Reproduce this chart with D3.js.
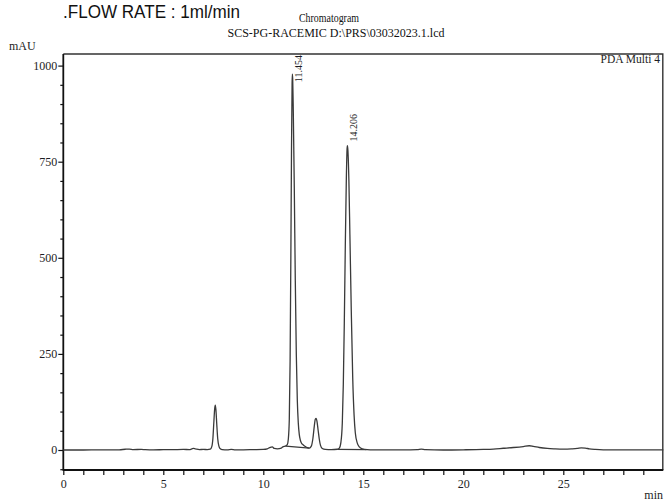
<!DOCTYPE html>
<html>
<head>
<meta charset="utf-8">
<script src="https://cdn.jsdelivr.net/npm/d3@7"></script>
<style>
  html, body { margin: 0; padding: 0; background: #fff; }
  svg { display: block; }
</style>
</head>
<body>
<svg id="chart" width="664" height="502"></svg>
<script>
// Detector trace: retention time (min) and absorbance (mAU)
const traceTime = [
  0, 1, 2, 2.8, 3.1, 3.3, 3.5, 3.9, 4.1, 4.5, 5, 5.5, 6, 6.3, 6.5, 6.6, 6.8, 7.0, 7.2,
  7.35, 7.42, 7.48, 7.53, 7.57, 7.6, 7.63, 7.67, 7.72, 7.78, 7.85, 7.95, 8.2, 8.4, 8.6,
  9.0, 9.5, 10.0, 10.2, 10.35, 10.45, 10.55, 10.7, 10.9, 11.0, 11.1, 11.2, 11.25, 11.3,
  11.34, 11.38, 11.41, 11.44, 11.454, 11.47, 11.5, 11.55, 11.6, 11.65, 11.7, 11.75, 11.8,
  11.85, 11.9, 12.0, 12.1, 12.2, 12.3, 12.4, 12.48, 12.55, 12.6, 12.64, 12.68, 12.74,
  12.8, 12.86, 12.95, 13.1, 13.4, 13.7, 13.8, 13.88, 13.95, 14.0, 14.05, 14.1, 14.15,
  14.19, 14.206, 14.23, 14.28, 14.33, 14.4, 14.47, 14.54, 14.6, 14.7, 14.8, 14.95, 15.2,
  15.5, 16, 17, 17.7, 17.9, 18.1, 19, 20, 21, 21.5, 22, 22.5, 23, 23.3, 23.5, 23.8, 24.2,
  24.6, 25.0, 25.4, 25.7, 25.9, 26.1, 26.3, 26.6, 27, 28, 29, 30
];
const traceMAU = [
  0, 0, 0.3, 0.5, 2, 2.5, 1, 1.5, 1, 0.5, 0.8, 1, 1.5, 1, 4, 3, 1, 1.5, 1,
  2, 8, 30, 75, 108, 117, 105, 70, 30, 10, 3, 1, 0.5, 1.5, 0.5,
  0.5, 1, 1.5, 3, 7, 8, 4, 3, 5, 9, 10, 14, 28, 80,
  230, 520, 780, 955, 978, 965, 880, 680, 440, 250, 130, 70, 40,
  26, 19, 13, 9, 6, 5, 10, 30, 62, 80, 82, 76, 52,
  28, 12, 4, 1.5, 1, 2, 5, 20, 70, 170, 330, 530, 700,
  785, 792, 780, 700, 560, 360, 190, 90, 45, 18, 8, 3, 1,
  0.5, 0.5, 0.5, 1, 2.5, 1, 0, 0.5, 1.5, 2.5, 4.5, 6.5, 9, 11, 9.5, 6.5, 4,
  3, 2.5, 3, 4, 5.5, 5, 3, 1.5, 0.5, 0.3, 0.2, 0.2
];

// Integration baselines drawn under the two main peaks
const baselineMainTime = [11.12, 12.3];
const baselineMainMAU = [10, 5];
const baselineSecondTime = [13.72, 15.15];
const baselineSecondMAU = [1.5, 1];

// Labelled peaks (retention time, apex height)
const peakTimes = [11.454, 14.206];
const peakHeights = [978, 792];
const peakLabels = ["11.454", "14.206"];

// Axis ticks
const xMajorTicks = [0, 5, 10, 15, 20, 25];
const xMinorTicks = d3.range(0, 31, 1);
const yMajorTicks = [0, 250, 500, 750, 1000];
const yMinorTicks = d3.range(-50, 1001, 50);

const svg = d3.select("#chart");
const plotLeft = 63.3, plotRight = 663.3, plotTop = 54, plotBottom = 470;

const x = d3.scaleLinear().domain([0, 30]).range([plotLeft, plotRight]);
const y = d3.scaleLinear().domain([0, 1000]).range([450, 65.6]);

const serif = "'Liberation Serif', 'Times New Roman', serif";
const textColor = "#1d1d24";

// Heading
svg.append("text")
  .attr("x", 63).attr("y", 18)
  .attr("font-family", "'Liberation Sans', Arial, sans-serif")
  .attr("font-size", 18)
  .attr("textLength", 177)
  .attr("lengthAdjust", "spacingAndGlyphs")
  .attr("fill", "#111")
  .text(".FLOW RATE : 1ml/min");

svg.append("text")
  .attr("x", 299).attr("y", 22)
  .attr("font-family", serif).attr("font-size", 11.5)
  .attr("textLength", 60)
  .attr("lengthAdjust", "spacingAndGlyphs")
  .attr("fill", "#111")
  .text("Chromatogram");

svg.append("text")
  .attr("x", 336).attr("y", 37)
  .attr("text-anchor", "middle")
  .attr("font-family", serif).attr("font-size", 12)
  .attr("fill", "#111")
  .text("SCS-PG-RACEMIC D:\\PRS\\03032023.1.lcd");

svg.append("text")
  .attr("x", 9).attr("y", 50)
  .attr("font-family", serif).attr("font-size", 12)
  .attr("fill", textColor)
  .text("mAU");

svg.append("text")
  .attr("x", 663).attr("y", 499)
  .attr("text-anchor", "end")
  .attr("font-family", serif).attr("font-size", 12)
  .attr("fill", textColor)
  .text("min");

// Frame (top and right edges)
svg.append("path")
  .attr("d", `M${plotLeft},${plotTop}H${plotRight - 0.5}V${plotBottom}`)
  .attr("fill", "none")
  .attr("stroke", "#333")
  .attr("stroke-width", 1.4);

svg.append("text")
  .attr("x", 660).attr("y", 63)
  .attr("text-anchor", "end")
  .attr("font-family", serif).attr("font-size", 11.5)
  .attr("fill", textColor)
  .text("PDA Multi 4");

// Minor ticks
svg.append("g")
  .attr("transform", `translate(${plotLeft},0)`)
  .call(d3.axisLeft(y).tickValues(yMinorTicks.filter(v => !yMajorTicks.includes(v))).tickSize(3).tickFormat(""))
  .call(g => g.select(".domain").remove())
  .selectAll("line").attr("stroke", "#111").attr("stroke-width", 1.2);

svg.append("g")
  .attr("transform", `translate(0,${plotBottom})`)
  .call(d3.axisBottom(x).tickValues(xMinorTicks.filter(v => !xMajorTicks.includes(v) && v < 30)).tickSize(5).tickFormat(""))
  .call(g => g.select(".domain").remove())
  .selectAll("line").attr("stroke", "#111").attr("stroke-width", 1.2);

// Major axes
const yAxis = svg.append("g")
  .attr("transform", `translate(${plotLeft},0)`)
  .call(d3.axisLeft(y).tickValues(yMajorTicks).tickFormat(d3.format("d"))
    .tickSize(5).tickPadding(1).tickSizeOuter(0));
yAxis.select(".domain").remove();
yAxis.selectAll("line").attr("stroke", "#111").attr("stroke-width", 1.2);
yAxis.selectAll("text")
  .attr("font-family", serif).attr("font-size", 12).attr("fill", textColor);

const xAxis = svg.append("g")
  .attr("transform", `translate(0,${plotBottom})`)
  .call(d3.axisBottom(x).tickValues(xMajorTicks).tickFormat(d3.format("d"))
    .tickSize(5).tickPadding(4).tickSizeOuter(0));
xAxis.select(".domain").remove();
xAxis.selectAll("line").attr("stroke", "#111").attr("stroke-width", 1.2);
xAxis.selectAll("text")
  .attr("font-family", serif).attr("font-size", 12).attr("fill", textColor);

// Axis lines
svg.append("line")
  .attr("x1", plotLeft).attr("x2", plotLeft).attr("y1", plotTop).attr("y2", plotBottom + 0.8)
  .attr("stroke", "#111").attr("stroke-width", 1.8);
svg.append("line")
  .attr("x1", plotLeft).attr("x2", plotRight).attr("y1", plotBottom).attr("y2", plotBottom)
  .attr("stroke", "#111").attr("stroke-width", 1.8);

// Trace
const points = traceTime.map((t, i) => [t, traceMAU[i]]);
const line = d3.line()
  .x(d => x(d[0]))
  .y(d => y(d[1]))
  .curve(d3.curveMonotoneX);

svg.append("path")
  .datum(points)
  .attr("d", line)
  .attr("fill", "none")
  .attr("stroke", "#3a3a3a")
  .attr("stroke-width", 1.3)
  .attr("stroke-linejoin", "round");

// Integration baselines
[[baselineMainTime, baselineMainMAU], [baselineSecondTime, baselineSecondMAU]].forEach(([ts, vs]) => {
  svg.append("path")
    .datum(ts.map((t, i) => [t, vs[i]]))
    .attr("d", d3.line().x(d => x(d[0])).y(d => y(d[1])))
    .attr("fill", "none")
    .attr("stroke", "#3a3a3a")
    .attr("stroke-width", 1.1);
});

// Retention-time labels, rotated, kept inside the frame
const labelSize = 10;
peakTimes.forEach((t, i) => {
  const lab = svg.append("text")
    .attr("font-family", serif).attr("font-size", labelSize)
    .attr("fill", textColor)
    .text(peakLabels[i]);
  const len = lab.node().getComputedTextLength();
  const startY = Math.max(y(peakHeights[i]) - 4, plotTop + len + 1);
  const px = x(t) + 10;
  lab.attr("transform", `translate(${px},${startY}) rotate(-90)`);
});
</script>
</body>
</html>
